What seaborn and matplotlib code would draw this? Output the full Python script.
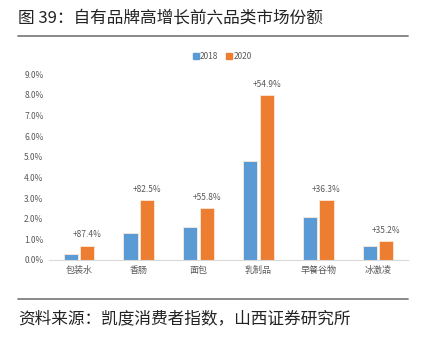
import matplotlib
matplotlib.use("Agg")
import matplotlib.pyplot as plt
from matplotlib.ticker import PercentFormatter, MultipleLocator
from matplotlib.lines import Line2D
import seaborn as sns
import pandas as pd

categories = ["包装水", "香肠", "面包", "乳制品", "早餐谷物", "冰激凌"]
share_2018 = [0.3, 1.3, 1.6, 4.8, 2.1, 0.7]
share_2020 = [0.7, 2.9, 2.5, 8.0, 2.9, 0.9]
growth_labels = ["+87.4%", "+82.5%", "+55.8%", "+54.9%", "+36.3%", "+35.2%"]
years = ["2018", "2020"]

sns.set_theme(style="white")
plt.rcParams["font.family"] = ["Noto Sans CJK SC", "DejaVu Sans"]

df = pd.DataFrame({
    "品类": categories * 2,
    "年份": [years[0]] * len(categories) + [years[1]] * len(categories),
    "份额": share_2018 + share_2020,
})

fig = plt.figure(figsize=(4.23, 3.38), dpi=100)
ax = fig.add_axes([0.1158, 0.2308, 0.8487, 0.5494])

palette = {"2018": "#5B9BD5", "2020": "#ED7D31"}
sns.barplot(data=df, x="品类", y="份额", hue="年份", palette=palette,
            saturation=1, width=0.55, gap=0.14, edgecolor="#FDE9D9",
            linewidth=0.6, ax=ax, legend=False)

ax.set_ylim(0, 9)
ax.yaxis.set_major_locator(MultipleLocator(1))
ax.yaxis.set_major_formatter(PercentFormatter(xmax=100, decimals=1))
ax.set_xlabel("")
ax.set_ylabel("")
ax.tick_params(axis="y", length=0, labelsize=6, colors="#595959", pad=4)
ax.tick_params(axis="x", length=0, labelsize=6.5, colors="#595959", pad=4)
for side in ["top", "right", "left"]:
    ax.spines[side].set_visible(False)
ax.spines["bottom"].set_color("#D9D9D9")
ax.spines["bottom"].set_linewidth(0.8)

# growth labels above the 2020 bars
for bar, txt in zip(ax.containers[1], growth_labels):
    ax.annotate(txt, (bar.get_x() + bar.get_width() / 2, bar.get_height()),
                xytext=(0, 4.5), textcoords="offset points",
                ha="center", va="bottom", fontsize=6, color="#595959")

handles = [Line2D([], [], marker="s", linestyle="", markersize=4,
                  markerfacecolor=palette[y], markeredgecolor=palette[y])
           for y in years]
fig.legend(handles, years, loc="center", bbox_to_anchor=(0.525, 0.834),
           ncol=2, frameon=False, fontsize=6, labelcolor="#595959",
           handletextpad=0.1, columnspacing=0.9, handlelength=0.8)

# header and footer
fig.text(0.043, 0.948, "图 39：自有品牌高增长前六品类市场份额", fontsize=12,
         color="#222222", va="center", ha="left")
fig.add_artist(Line2D([0.043, 0.965], [0.893, 0.893], color="#808080",
                      linewidth=1.3, transform=fig.transFigure))
fig.add_artist(Line2D([0.043, 0.965], [0.115, 0.115], color="#808080",
                      linewidth=1.3, transform=fig.transFigure))
fig.text(0.043, 0.056, "资料来源：凯度消费者指数，山西证券研究所", fontsize=12,
         color="#222222", va="center", ha="left")

fig.savefig("out.png", dpi=100)
